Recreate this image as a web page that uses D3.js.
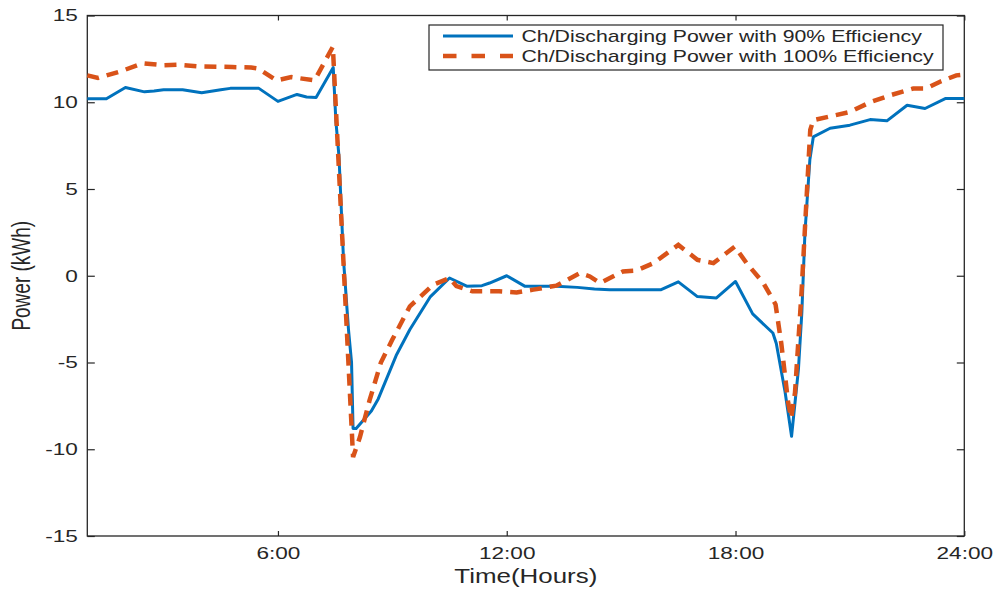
<!DOCTYPE html>
<html>
<head>
<meta charset="utf-8">
<script src="https://cdn.jsdelivr.net/npm/d3@7"></script>
<style>
  html, body { margin: 0; padding: 0; background: #fff; }
  svg { display: block; font-family: "Liberation Sans", Arial, sans-serif; }
</style>
</head>
<body>
<svg id="chart" width="998" height="591"></svg>
<script>
// ---- data (hours, kWh) ----
const seriesNames = [
  "Ch/Discharging Power with 90% Efficiency",
  "Ch/Discharging Power with 100% Efficiency"
];
const xTicks = [6, 12, 18, 24];
const xTickLabels = ["6:00", "12:00", "18:00", "24:00"];
const yTicks = [-15, -10, -5, 0, 5, 10, 15];
const yTickLabels = ["-15", "-10", "-5", "0", "5", "10", "15"];

const hours90 = [1.0, 1.5, 2.0, 2.5, 2.75, 3.0, 3.5, 4.0, 4.5, 4.75, 5.5, 6.0, 6.25, 6.5, 6.75, 7.0,
  7.45, 7.52, 7.6, 7.72, 7.85, 7.93, 7.97, 8.05, 8.45, 8.63, 9.1, 9.46, 10.0, 10.5, 10.95, 11.35,
  11.55, 12.0, 12.47, 13.3, 13.85, 14.3, 14.7, 16.05, 16.5, 17.0, 17.5, 18.0, 18.45, 18.98, 19.07,
  19.3, 19.47, 19.65, 19.74, 19.82, 19.95, 20.04, 20.48, 21.0, 21.53, 21.97, 22.5, 22.97, 23.5, 24.0];
const power90 = [10.2, 10.2, 10.85, 10.6, 10.65, 10.72, 10.72, 10.55, 10.72, 10.8, 10.8, 10.05, 10.25, 10.45, 10.3, 10.27,
  12.0, 8.9, 6.9, 0.9, -3.1, -5.0, -8.8, -8.8, -7.8, -7.1, -4.6, -3.1, -1.2, -0.13, -0.6, -0.57,
  -0.42, 0.0, -0.6, -0.6, -0.67, -0.77, -0.8, -0.8, -0.35, -1.2, -1.28, -0.33, -2.2, -3.3, -3.9,
  -6.7, -9.25, -5.4, -2.1, 2.45, 6.7, 8.0, 8.5, 8.68, 9.0, 8.93, 9.83, 9.64, 10.21, 10.21];

const hours100 = [1.0, 1.28, 1.9, 2.45, 3.0, 3.4, 3.9, 4.8, 5.3, 5.48, 5.96, 6.35, 6.96, 7.44,
  7.97, 8.15, 8.4, 8.7, 9.0, 9.46, 10.07, 10.5, 10.68, 11.1, 11.8, 12.26, 12.7, 13.3, 13.92, 14.18,
  14.45, 15.05, 15.4, 15.85, 16.5, 17.0, 17.42, 17.98, 18.29, 18.73, 19.05, 19.2, 19.38, 19.46,
  19.56, 19.73, 19.87, 19.96, 20.04, 21.0, 21.53, 22.05, 22.66, 23.0, 23.35, 23.79, 24.0];
const power100 = [11.55, 11.4, 11.8, 12.25, 12.13, 12.16, 12.07, 12.03, 12.0, 11.94, 11.26, 11.45, 11.26, 13.2,
  -10.45, -9.3, -7.2, -5.0, -3.68, -1.76, -0.52, -0.13, -0.6, -0.9, -0.9, -0.96, -0.8, -0.57, 0.15, -0.04,
  -0.42, 0.25, 0.3, 0.73, 1.78, 0.92, 0.73, 1.68, 0.73, -0.42, -1.65, -3.9, -7.3, -8.2,
  -6.74, -1.0, 4.75, 8.4, 8.97, 9.44, 10.0, 10.4, 10.79, 10.79, 11.17, 11.55, 11.6];

// ---- layout ----
const svg = d3.select("#chart");
const plotLeft = 87.3, plotRight = 964.3, plotTop = 15.5, plotBottom = 536;
const SX = 1.33;           // horizontal text stretch of the reference
const axisColor = "#262626";

const x = d3.scaleLinear().domain([1, 24]).range([plotLeft, plotRight]);
const y = d3.scaleLinear().domain([-15, 15]).range([plotBottom, plotTop]);

function styleAxis(g) {
  g.select(".domain").remove();
  g.selectAll("line").attr("stroke", axisColor).attr("stroke-width", 1.2);
  g.selectAll("text").attr("fill", axisColor)
    .style("font-family", '"Liberation Sans", Arial, sans-serif')
    .style("font-size", "17px");
}

const gx = svg.append("g").attr("transform", `translate(0,${plotBottom})`)
  .call(d3.axisBottom(x).tickValues(xTicks)
    .tickFormat((d, i) => xTickLabels[i]).tickSizeInner(-5).tickSizeOuter(0).tickPadding(11));
styleAxis(gx);
gx.selectAll("text").attr("transform", `scale(${SX},1)`);

const gxTop = svg.append("g").attr("transform", `translate(0,${plotTop})`)
  .call(d3.axisTop(x).tickValues(xTicks).tickFormat("").tickSizeInner(-5).tickSizeOuter(0));
styleAxis(gxTop);

const gy = svg.append("g").attr("transform", `translate(${plotLeft},0)`)
  .call(d3.axisLeft(y).tickValues(yTicks).tickFormat((d, i) => yTickLabels[i])
    .tickSizeInner(-7.5).tickSizeOuter(0).tickPadding(9.5));
styleAxis(gy);
gy.selectAll("text").each(function () {
  const t = d3.select(this);
  t.attr("x", +t.attr("x") / SX).attr("transform", `scale(${SX},1)`);
});

const gyRight = svg.append("g").attr("transform", `translate(${plotRight},0)`)
  .call(d3.axisRight(y).tickValues(yTicks).tickFormat("").tickSizeInner(-7.5).tickSizeOuter(0));
styleAxis(gyRight);

svg.append("rect")
  .attr("x", plotLeft).attr("y", plotTop)
  .attr("width", plotRight - plotLeft).attr("height", plotBottom - plotTop)
  .attr("fill", "none").attr("stroke", axisColor).attr("stroke-width", 1.3);

const colors = ["#0072BD", "#D95319"];
const line = d3.line().x(d => x(d[0])).y(d => y(d[1]));
const data90 = hours90.map((h, i) => [h, power90[i]]);
const data100 = hours100.map((h, i) => [h, power100[i]]);

svg.append("path").datum(data90)
  .attr("d", line).attr("fill", "none")
  .attr("stroke", colors[0]).attr("stroke-width", 3)
  .attr("stroke-linejoin", "round");

svg.append("path").datum(data100)
  .attr("d", line).attr("fill", "none")
  .attr("stroke", colors[1]).attr("stroke-width", 4.5)
  .attr("stroke-dasharray", "12,8");

svg.append("text")
  .attr("transform", `translate(${(plotLeft + plotRight) / 2},583) scale(${SX},1)`)
  .attr("text-anchor", "middle")
  .attr("fill", axisColor)
  .style("font-size", "19.5px")
  .text("Time(Hours)");

svg.append("text")
  .attr("transform", `translate(30,${(plotTop + plotBottom) / 2}) scale(${SX},1) rotate(-90)`)
  .attr("text-anchor", "middle")
  .attr("fill", axisColor)
  .style("font-size", "19px")
  .text("Power (kWh)");

const lg = svg.append("g");
lg.append("rect")
  .attr("x", 429).attr("y", 25).attr("width", 514).attr("height", 45)
  .attr("fill", "#fff").attr("stroke", axisColor).attr("stroke-width", 1.2);

const legendRows = [36, 56];
seriesNames.forEach((name, i) => {
  const ly = legendRows[i];
  lg.append("line")
    .attr("x1", 443).attr("x2", 513).attr("y1", ly).attr("y2", ly)
    .attr("stroke", colors[i])
    .attr("stroke-width", i === 0 ? 3 : 4.5)
    .attr("stroke-dasharray", i === 0 ? null : "13.5,15");
  lg.append("text")
    .attr("transform", `translate(521.5,${ly + 5.8}) scale(${SX},1)`)
    .attr("fill", axisColor)
    .style("font-size", "16px")
    .text(name);
});
</script>
</body>
</html>
